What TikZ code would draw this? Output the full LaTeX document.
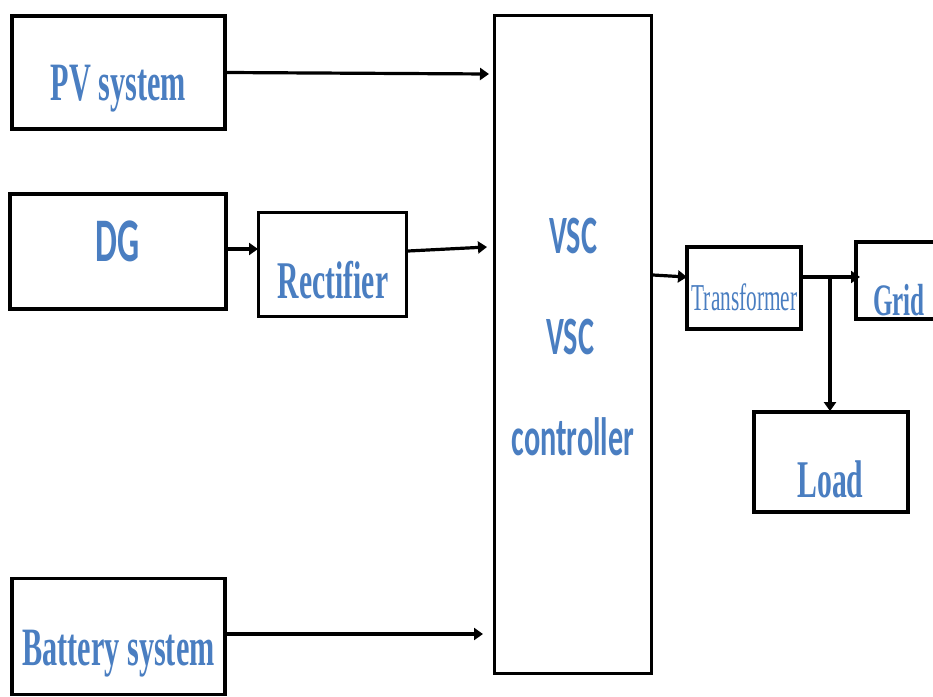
\documentclass[tikz,border=0pt]{standalone}
\usepackage{fontspec}
\usetikzlibrary{arrows.meta}
\newfontfamily\rmcond[FakeStretch=0.56]{Liberation Serif}
\newfontfamily\sfcond[FakeStretch=0.56]{Carlito}
\definecolor{txtblue}{RGB}{74,126,193}
\tikzset{
  blk/.style={draw=black, line width=3.8pt, fill=white, inner sep=0pt, rectangle},
  lbl/.style={text=txtblue, inner sep=0pt, anchor=base},
  conn/.style={line width=3.2pt, -{Triangle[length=9pt,width=12pt]}},
}
\begin{document}
\begin{tikzpicture}[x=1pt,y=-1pt]
\clip (0,0) rectangle (933,696);
\useasboundingbox (0,0) rectangle (933,696);
\fill[white] (0,0) rectangle (933,696);
% boxes
\node[blk, minimum width=213pt, minimum height=113pt] (pv) at (118.5,72.5) {};
\node[blk, minimum width=216pt, minimum height=115pt] (dg) at (118,251.5) {};
\node[blk, line width=3pt, minimum width=148pt, minimum height=104pt] (rect) at (332.5,264.5) {};
\node[blk, line width=3.2pt, minimum width=157pt, minimum height=658pt] (vsc) at (573,344.5) {};
\node[blk, minimum width=114pt, minimum height=82pt] (tr) at (744,288) {};
\node[blk, line width=4pt, minimum width=104pt, minimum height=77pt] (grid) at (908,280.5) {};
\node[blk, minimum width=154pt, minimum height=100pt] (load) at (831,462) {};
\node[blk, minimum width=213pt, minimum height=116pt] (bat) at (118.5,636.5) {};
% labels
\node[lbl] (pvl) at (118.5,100) {\rmcond\bfseries\fontsize{54}{60}\selectfont PV system};
\node[lbl] (dgl) at (117.5,261) {\sfcond\bfseries\fontsize{62}{70}\selectfont DG};
\node[lbl] (rectl) at (333,298) {\rmcond\bfseries\fontsize{53}{60}\selectfont Rectifier};
\node[lbl] (batl) at (118.5,665) {\rmcond\bfseries\fontsize{54}{60}\selectfont Battery system};
\node[lbl] (vsc1) at (573,253) {\sfcond\bfseries\fontsize{54}{60}\selectfont VSC};
\node[lbl] (vsc2) at (570,354) {\sfcond\bfseries\fontsize{54}{60}\selectfont VSC};
\node[lbl] (ctrl) at (573,455) {\sfcond\bfseries\fontsize{54}{60}\selectfont controller};
\node[lbl] (trl) at (744.5,310) {\rmcond\fontsize{38}{44}\selectfont Transformer};
\node[lbl] (gridl) at (899,315) {\rmcond\bfseries\fontsize{45}{50}\selectfont Grid};
\node[lbl] (loadl) at (830.5,497) {\rmcond\bfseries\fontsize{53}{60}\selectfont Load};
% connector helper coordinates
\coordinate (pvend) at (489,74);
\coordinate (rs) at (408,251);
\coordinate (re) at (487,247);
\coordinate (batend) at (483,634);
\coordinate (vs) at (653,275);
\coordinate (te) at (687,277);
\coordinate (ts) at (803,277);
\coordinate (ge) at (860,277);
\coordinate (j) at (830,277);
% connectors
\draw[conn] (pv.east) -- (pvend);
\draw[conn] (dg.east |- 0,249) -- ([xshift=1pt]rect.west |- 0,249);
\draw[conn] (rs) -- (re);
\draw[conn] (bat.east |- batend) -- (batend);
\draw[conn] (vs) -- (te);
\draw[conn] (ts) -- (ge);
\draw[conn] (j) -- ([yshift=-1pt]j |- load.north);
\end{tikzpicture}
\end{document}
